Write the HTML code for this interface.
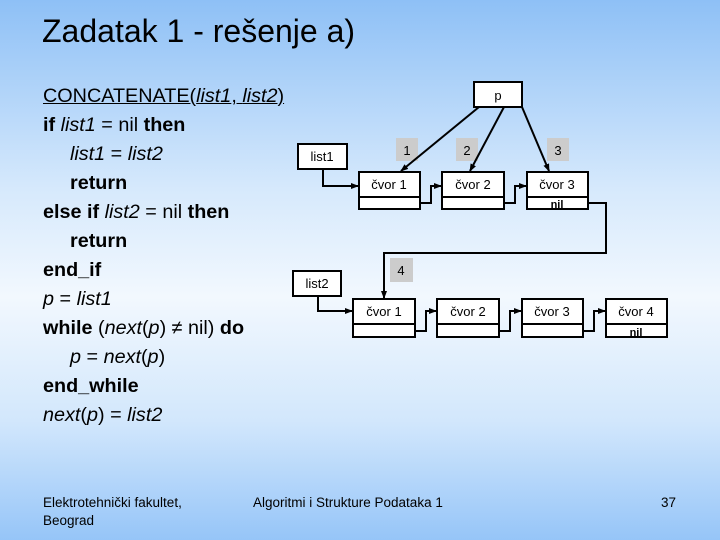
<!DOCTYPE html>
<html><head><meta charset="utf-8"><style>
html,body{margin:0;padding:0}
body{width:720px;height:540px;overflow:hidden;background:linear-gradient(to bottom,#8ec0f6 0%,#d6e9fc 35%,#f2f8fe 55%,#d2e7fc 78%,#96c5f8 100%);font-family:"Liberation Sans",sans-serif;position:relative}
.t{position:absolute;left:42px;top:13px;font-size:32px;color:#000}
.code{position:absolute;left:43px;top:82px;font-size:19.8px;line-height:29px;color:#000;white-space:nowrap}
.code div{height:29px}
.f{position:absolute;font-size:13.5px;color:#000;line-height:18px}
svg{position:absolute;left:0;top:0}
</style></head><body>
<div class="t">Zadatak 1 - rešenje a)</div>
<div class="code">
<div><u>CONCATENATE(<i>list1</i>, <i>list2</i>)</u></div>
<div><b>if</b> <i>list1</i> = nil <b>then</b></div>
<div style="padding-left:27px"><i>list1</i> = <i>list2</i></div>
<div style="padding-left:27px"><b>return</b></div>
<div><b>else if</b> <i>list2</i> = nil <b>then</b></div>
<div style="padding-left:27px"><b>return</b></div>
<div><b>end_if</b></div>
<div><i>p</i> = <i>list1</i></div>
<div><b>while</b> (<i>next</i>(<i>p</i>) ≠ nil) <b>do</b></div>
<div style="padding-left:27px"><i>p</i> = <i>next</i>(<i>p</i>)</div>
<div><b>end_while</b></div>
<div><i>next</i>(<i>p</i>) = <i>list2</i></div>
</div>
<div class="f" style="left:43px;top:494px">Elektrotehnički fakultet,<br>Beograd</div>
<div class="f" style="left:253px;top:494px">Algoritmi i Strukture Podataka 1</div>
<div class="f" style="left:661px;top:494px">37</div>
<svg width="720" height="540" font-family="Liberation Sans, sans-serif" font-size="13">
<defs><marker id="a" markerWidth="8" markerHeight="8" refX="7" refY="4" orient="auto" markerUnits="userSpaceOnUse"><path d="M0,1 L8,4 L0,7z" fill="#000"/></marker></defs>
<g fill="#ccc">
<rect x="396" y="138" width="22" height="23"/><rect x="456" y="138" width="22" height="23"/><rect x="547" y="138" width="22" height="23"/><rect x="390" y="258" width="23" height="24"/>
</g>
<g font-size="13" text-anchor="middle">
<text x="407" y="155">1</text><text x="467" y="155">2</text><text x="558" y="155">3</text><text x="401" y="275">4</text>
</g>
<g fill="#fff" stroke="#000" stroke-width="2">
<rect x="474" y="82" width="48" height="25"/>
<rect x="298" y="144" width="49" height="25"/>
<rect x="293" y="271" width="48" height="25"/>
<rect x="359" y="172" width="61" height="37"/><rect x="442" y="172" width="62" height="37"/><rect x="527" y="172" width="61" height="37"/>
<rect x="353" y="299" width="62" height="38"/><rect x="437" y="299" width="62" height="38"/><rect x="522" y="299" width="61" height="38"/><rect x="606" y="299" width="61" height="38"/>
</g>
<g stroke="#000" stroke-width="2" fill="none">
<path d="M359,197H420M442,197H504M527,197H588M353,324H415M437,324H499M522,324H583M606,324H667"/>
<path d="M479,107L401,171" marker-end="url(#a)"/>
<path d="M504,107L470,171" marker-end="url(#a)"/>
<path d="M522,107L549,171" marker-end="url(#a)"/>
<path d="M323,169V186H358" marker-end="url(#a)"/>
<path d="M420,203H431V186H441" marker-end="url(#a)"/>
<path d="M504,203H515V186H526" marker-end="url(#a)"/>
<path d="M588,203H606V253H384V298" marker-end="url(#a)"/>
<path d="M318,296V311H352" marker-end="url(#a)"/>
<path d="M415,331H426V311H436" marker-end="url(#a)"/>
<path d="M499,331H510V311H521" marker-end="url(#a)"/>
<path d="M583,331H594V311H605" marker-end="url(#a)"/>
</g>
<g text-anchor="middle" font-size="13">
<text x="498" y="100">p</text>
<text x="322" y="161">list1</text>
<text x="317" y="288">list2</text>
<text x="389" y="189">čvor 1</text><text x="473" y="189">čvor 2</text><text x="557" y="189">čvor 3</text>
<text x="384" y="316">čvor 1</text><text x="468" y="316">čvor 2</text><text x="552" y="316">čvor 3</text><text x="636" y="316">čvor 4</text>
<text x="557" y="208" font-size="11" font-weight="bold">nil</text>
<text x="636" y="336" font-size="11" font-weight="bold">nil</text>
</g>
</svg>
</body></html>
